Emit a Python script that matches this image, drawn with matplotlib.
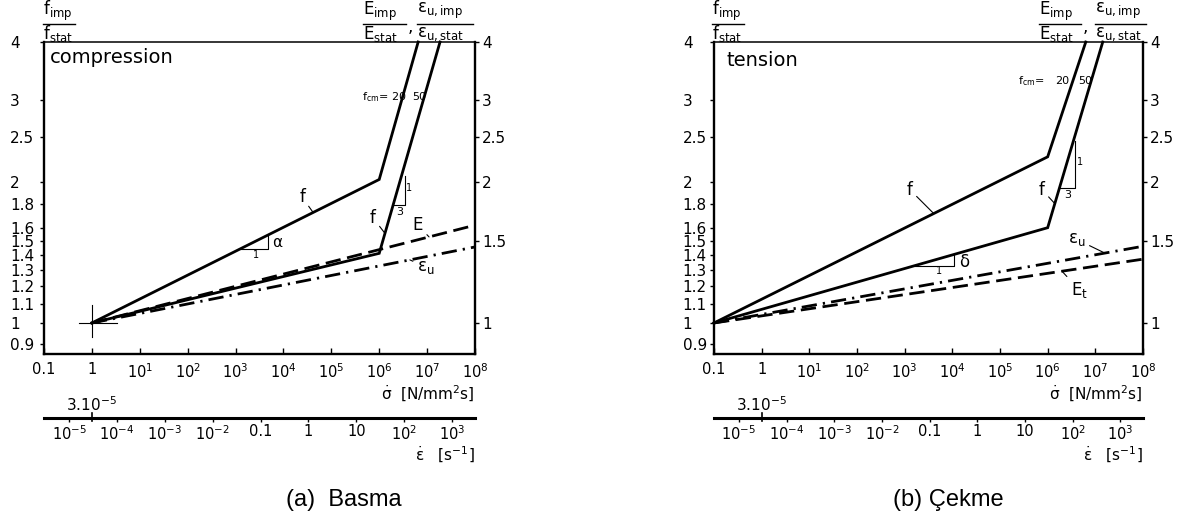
import numpy as np
import matplotlib
matplotlib.use("Agg")
import matplotlib.pyplot as plt
from matplotlib.lines import Line2D
from matplotlib.ticker import NullLocator
from matplotlib import transforms

W, H, DPI = 1185, 522, 100

# ---- compression: stress rate [N/mm^2 s] vs. dynamic increase factor ----
comp_f20_rate = [1, 1e6, 6.5e6]
comp_f20_ratio = [1.0, 2.03, 4.0]
comp_f50_rate = [1, 1e6, 1.86e7]
comp_f50_ratio = [1.0, 1.41, 4.0]
comp_E_rate = [1, 1e8]
comp_E_ratio = [1.0, 1.62]
comp_eu_rate = [1, 1e8]
comp_eu_ratio = [1.0, 1.455]

# ---- tension ----
tens_f20_rate = [0.1, 1e6, 6.3e6]
tens_f20_ratio = [1.0, 2.27, 4.0]
tens_f50_rate = [0.1, 1e6, 1.43e7]
tens_f50_ratio = [1.0, 1.60, 4.0]
tens_eu_rate = [0.1, 1e8]
tens_eu_ratio = [1.0, 1.46]
tens_Et_rate = [0.1, 1e8]
tens_Et_ratio = [1.0, 1.37]

# ---- axes ticks ----
rate_ticks = [0.1, 1, 1e1, 1e2, 1e3, 1e4, 1e5, 1e6, 1e7, 1e8]
rate_labels = ["0.1", "1", "$10^{1}$", "$10^{2}$", "$10^{3}$", "$10^{4}$",
               "$10^{5}$", "$10^{6}$", "$10^{7}$", "$10^{8}$"]
strain_ticks = [1e-5, 1e-4, 1e-3, 1e-2, 0.1, 1, 10, 1e2, 1e3]
strain_labels = ["$10^{-5}$", "$10^{-4}$", "$10^{-3}$", "$10^{-2}$", "0.1",
                 "1", "10", "$10^{2}$", "$10^{3}$"]
left_ticks = [0.9, 1, 1.1, 1.2, 1.3, 1.4, 1.5, 1.6, 1.8, 2, 2.5, 3, 4]
left_labels = ["0.9", "1", "1.1", "1.2", "1.3", "1.4", "1.5", "1.6", "1.8",
               "2", "2.5", "3", "4"]
right_ticks = [1, 1.5, 2, 2.5, 3, 4]
right_labels = ["1", "1.5", "2", "2.5", "3", "4"]
strain_per_stress_rate = 3e-5   # strain rate matching a stress rate of 1 N/mm^2 s

YMIN, YMAX = 0.858, 4.0

plt.rcParams["font.family"] = ["DejaVu Sans"]
plt.rcParams["mathtext.default"] = "regular"

fig = plt.figure(figsize=(W / DPI, H / DPI), dpi=DPI)


def box(l, r, t, b):
    return [l / W, 1 - b / H, (r - l) / W, (b - t) / H]


def fx(x):
    return x / W


def fy(y):
    return 1 - y / H


def on_line(rate, xs, ys):
    return 10 ** np.interp(np.log10(rate), np.log10(xs), np.log10(ys))


def rate_at(ratio, xs, ys):
    return 10 ** np.interp(np.log10(ratio), np.log10(ys), np.log10(xs))


def setup_panel(ax, label_pad):
    ax.set_xscale("log")
    ax.set_yscale("log")
    ax.set_xlim(0.1, 1e8)
    ax.set_ylim(YMIN, YMAX)
    ax.set_xticks(rate_ticks, rate_labels)
    ax.set_yticks(left_ticks, left_labels)
    ax.xaxis.set_minor_locator(NullLocator())
    ax.yaxis.set_minor_locator(NullLocator())
    for side in ("left", "bottom", "right"):
        ax.spines[side].set_linewidth(1.7)
    ax.spines["top"].set_linewidth(1.1)
    ax.tick_params(axis="x", direction="in", length=4, width=1, pad=6,
                   labelsize=10.5)
    ax.tick_params(axis="y", direction="out", length=3, width=1,
                   pad=label_pad, labelsize=11)
    for lab in ax.get_yticklabels():
        lab.set_horizontalalignment("left")

    ax2 = ax.twinx()
    ax2.set_yscale("log")
    ax2.set_ylim(YMIN, YMAX)
    ax2.set_yticks(right_ticks, right_labels)
    ax2.yaxis.set_minor_locator(NullLocator())
    for s in ax2.spines.values():
        s.set_visible(False)
    ax2.tick_params(axis="y", direction="out", length=3, width=1, pad=2,
                    labelsize=11)

    sec = ax.secondary_xaxis(
        -0.205,
        functions=(lambda s: s * strain_per_stress_rate,
                   lambda e: e / strain_per_stress_rate))
    sec.set_xticks(strain_ticks, strain_labels)
    sec.xaxis.set_minor_locator(NullLocator())
    sec.spines["bottom"].set_linewidth(2.2)
    sec.spines["top"].set_visible(False)
    sec.tick_params(axis="x", direction="out", length=3, width=1, pad=1.5,
                    labelsize=10.5)

    # reference strain rate 3.10^-5 at a stress rate of 1
    tr = transforms.blended_transform_factory(ax.transData, ax.transAxes)
    ax.plot([1, 1], [-0.19, -0.215], transform=tr, color="k", lw=1.2,
            clip_on=False)
    ax.text(1, -0.162, "3.10$^{-5}$", transform=tr, ha="center",
            va="center", fontsize=11)
    ax.text(1.0, -0.127, r"$\dot{\sigma}$  [N/mm$^{2}$s]", transform=ax.transAxes,
            ha="right", va="center", fontsize=11)
    ax.text(1.0, -0.322, r"$\dot{\varepsilon}$   [s$^{-1}$]",
            transform=ax.transAxes, ha="right", va="center", fontsize=11)


SOLID = dict(color="k", lw=2.0, solid_joinstyle="miter", clip_on=False)
DASH = dict(color="k", lw=2.0, ls=(0, (5.5, 2.4)), dash_capstyle="butt")
DASHDOT = dict(color="k", lw=2.0, ls=(0, (5.5, 2.2, 0.8, 2.2)),
               dash_capstyle="butt")
THIN = dict(color="k", lw=0.8)


def leader(ax, text, text_xy, rate, xs, ys, fs=12):
    ax.annotate(text, xy=(rate, on_line(rate, xs, ys)), xytext=text_xy,
                ha="center", va="center", fontsize=fs,
                arrowprops=dict(arrowstyle="-", lw=0.8, shrinkA=1, shrinkB=0,
                                color="k"))


def header(l_f, x_e, x_comma, x_eu, x_eu_end):
    top, bot, bar = 11, 34, 24
    fig.text(fx(l_f), fy(top), r"f$_{imp}$", fontsize=12, ha="left", va="center")
    fig.text(fx(l_f), fy(bot), r"f$_{stat}$", fontsize=12, ha="left", va="center")
    fig.add_artist(Line2D([fx(l_f), fx(l_f + 32)], [fy(bar), fy(bar)],
                          transform=fig.transFigure, color="k", lw=1))
    fig.text(fx(x_e), fy(top), r"E$_{imp}$", fontsize=12, ha="left", va="center")
    fig.text(fx(x_e), fy(bot), r"E$_{stat}$", fontsize=12, ha="left", va="center")
    fig.add_artist(Line2D([fx(x_e), fx(x_comma - 4)], [fy(bar), fy(bar)],
                          transform=fig.transFigure, color="k", lw=1))
    fig.text(fx(x_comma), fy(27), ",", fontsize=12, ha="center", va="center")
    fig.text(fx(x_eu), fy(top), r"ε$_{u,imp}$", fontsize=12, ha="left",
             va="center")
    fig.text(fx(x_eu), fy(bot), r"ε$_{u,stat}$", fontsize=12, ha="left",
             va="center")
    fig.add_artist(Line2D([fx(x_eu), fx(x_eu_end)], [fy(bar), fy(bar)],
                          transform=fig.transFigure, color="k", lw=1))


# ================= compression =================
ax_c = fig.add_axes(box(44, 475, 42, 354))
setup_panel(ax_c, label_pad=21.5)

ax_c.plot(comp_f20_rate, comp_f20_ratio, **SOLID)
ax_c.plot(comp_f50_rate, comp_f50_ratio, **SOLID)
ax_c.plot(comp_E_rate, comp_E_ratio, **DASH)
ax_c.plot(comp_eu_rate, comp_eu_ratio, **DASHDOT)

# origin cross
ax_c.plot([10 ** -0.27, 10 ** 0.52], [1, 1], **THIN)
ax_c.plot([1, 1], [0.933, 1.093], **THIN)

ax_c.text(0.014, 0.95, "compression", transform=ax_c.transAxes, fontsize=14,
          ha="left", va="center")

leader(ax_c, "f", (10 ** 4.39, 1.86), 10 ** 4.62, comp_f20_rate, comp_f20_ratio)
leader(ax_c, "f", (10 ** 5.87, 1.68), 10 ** 6.12, comp_f50_rate, comp_f50_ratio)
leader(ax_c, "E", (10 ** 6.81, 1.62), 10 ** 7.04, comp_E_rate, comp_E_ratio)
leader(ax_c, "ε$_{u}$", (10 ** 6.97, 1.318), 10 ** 6.64, comp_eu_rate,
       comp_eu_ratio)

# slope alpha
a1, a2 = 10 ** 3.08, 10 ** 3.67
ya = on_line(a1, comp_f20_rate, comp_f20_ratio)
ax_c.plot([a1, a2, a2], [ya, ya, on_line(a2, comp_f20_rate, comp_f20_ratio)],
          **THIN)
ax_c.text(10 ** 3.42, 1.40, "1", fontsize=7, ha="center", va="center")
ax_c.text(10 ** 3.86, 1.49, "α", fontsize=11, ha="center", va="center")

# slope 1:3
s2 = 10 ** 6.54
s1 = rate_at(1.79, comp_f50_rate, comp_f50_ratio)
ax_c.plot([s1, s2, s2], [1.79, 1.79, 2.07], **THIN)
ax_c.text(10 ** 6.62, 1.95, "1", fontsize=7, ha="center", va="center")
ax_c.text(10 ** 6.42, 1.73, "3", fontsize=8, ha="center", va="center")

ax_c.text(10 ** 5.64, 3.05, "f$_{cm}$= 20", fontsize=8, ha="left",
          va="center")
ax_c.text(10 ** 6.68, 3.05, "50", fontsize=8, ha="left", va="center")

header(43, 363, 410, 417, 473)
fig.text(fx(344), fy(500), "(a)  Basma", fontsize=17, family="Liberation Sans",
         ha="center", va="center")

# ================= tension =================
ax_t = fig.add_axes(box(714, 1143, 42, 354))
setup_panel(ax_t, label_pad=19.5)

ax_t.plot(tens_f20_rate, tens_f20_ratio, **SOLID)
ax_t.plot(tens_f50_rate, tens_f50_ratio, **SOLID)
ax_t.plot(tens_eu_rate, tens_eu_ratio, **DASHDOT)
ax_t.plot(tens_Et_rate, tens_Et_ratio, **DASH)

ax_t.text(0.028, 0.942, "tension", transform=ax_t.transAxes, fontsize=14,
          ha="left", va="center")

leader(ax_t, "f", (10 ** 3.11, 1.93), 10 ** 3.61, tens_f20_rate, tens_f20_ratio)
leader(ax_t, "f", (10 ** 5.88, 1.93), 10 ** 6.15, tens_f50_rate, tens_f50_ratio)
leader(ax_t, "ε$_{u}$", (10 ** 6.61, 1.51), 10 ** 7.2, tens_eu_rate,
       tens_eu_ratio)
leader(ax_t, "E$_{t}$", (10 ** 6.66, 1.178), 10 ** 6.3, tens_Et_rate,
       tens_Et_ratio)

# slope delta
d1, d2 = 10 ** 3.21, 10 ** 4.03
yd = on_line(d1, tens_f50_rate, tens_f50_ratio)
ax_t.plot([d1, d2, d2], [yd, yd, on_line(d2, tens_f50_rate, tens_f50_ratio)],
          **THIN)
ax_t.text(10 ** 3.72, 1.29, "1", fontsize=7, ha="center", va="center")
ax_t.text(10 ** 4.24, 1.35, "δ", fontsize=12, ha="center", va="center")

# slope 1:3
t2 = 10 ** 6.57
t1 = rate_at(1.95, tens_f50_rate, tens_f50_ratio)
ax_t.plot([t1, t2, t2], [1.95, 1.95, 2.45], **THIN)
ax_t.text(10 ** 6.68, 2.21, "1", fontsize=7, ha="center", va="center")
ax_t.text(10 ** 6.42, 1.88, "3", fontsize=8, ha="center", va="center")

ax_t.text(10 ** 5.65, 3.3, "f$_{cm}$=", fontsize=8, ha="center", va="center")
ax_t.text(10 ** 6.3, 3.3, "20", fontsize=8, ha="center", va="center")
ax_t.text(10 ** 6.78, 3.3, "50", fontsize=8, ha="center", va="center")

header(712, 1039, 1085, 1095, 1146)
fig.text(fx(948), fy(500), "(b) Çekme", fontsize=17, family="Liberation Sans",
         ha="center", va="center")

fig.savefig("out.png", dpi=DPI)
